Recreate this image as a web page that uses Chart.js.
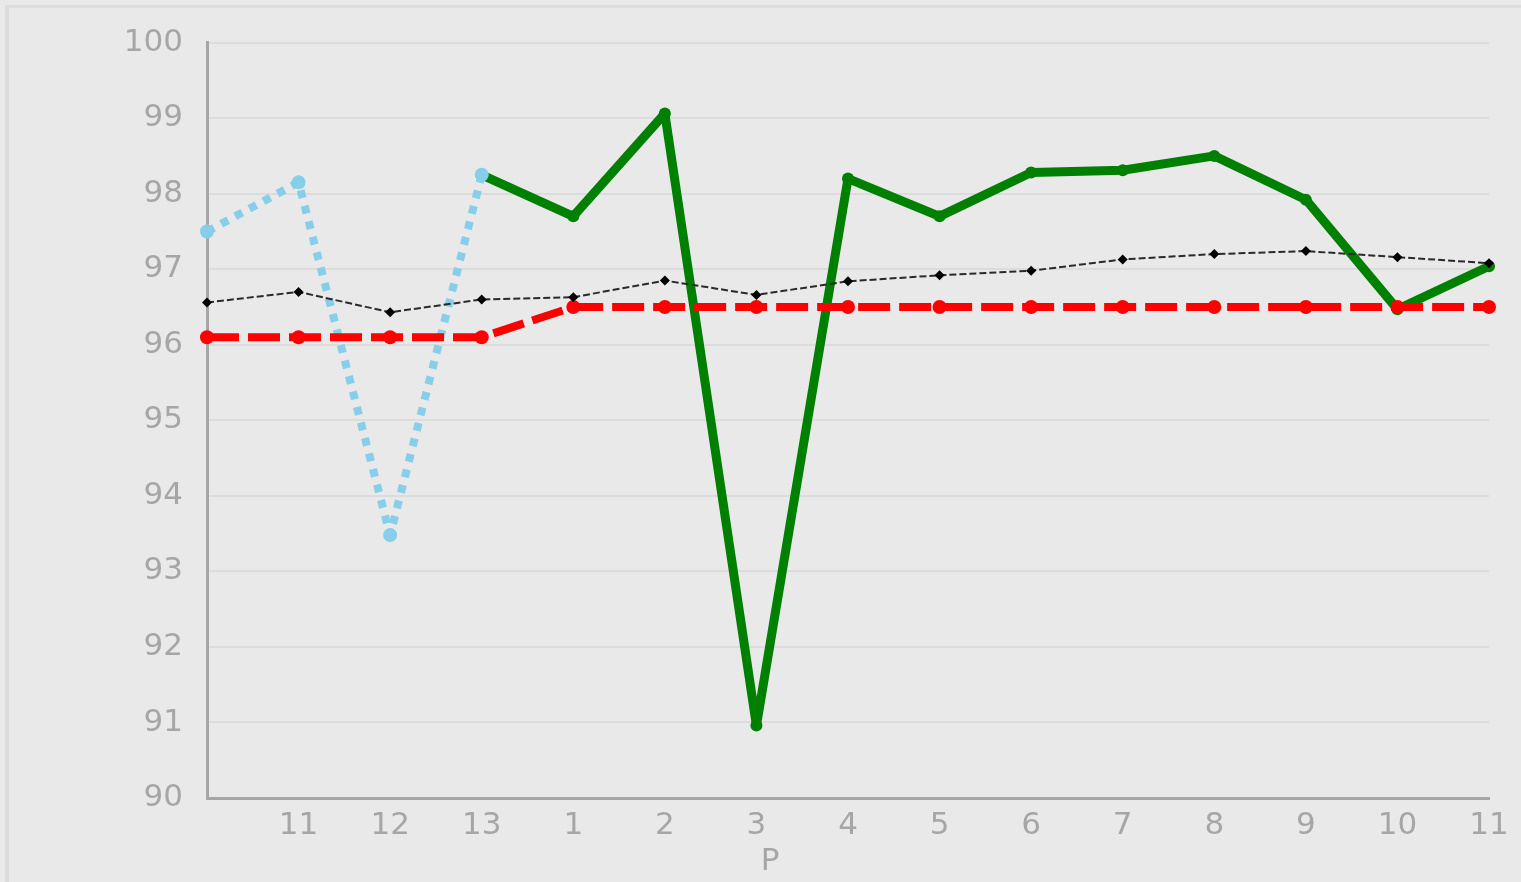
<!DOCTYPE html>
<html>
<head>
<meta charset="utf-8">
<script src="https://cdn.jsdelivr.net/npm/chart.js@4.4.1/dist/chart.umd.min.js"></script>
<style>
  html, body { margin: 0; padding: 0; background: #e9e9e9; overflow: hidden; }
  #frame { position: absolute; left: 5px; top: 5px; width: 1516px; height: 877px;
           border-top: 3px solid #dcdcdc; border-left: 4px solid #dcdcdc; box-sizing: border-box; }
  #wrap { position: absolute; left: 0; top: 0; width: 1521px; height: 882px; }
</style>
</head>
<body>
<div id="frame"></div>
<div id="wrap"><canvas id="chart" width="1521" height="882"></canvas></div>
<script>
// --- dados ---
const periods = ['', '11', '12', '13', '1', '2', '3', '4', '5', '6', '7', '8', '9', '10', '11'];
const prevYear = [97.5, 98.15, 93.48, 98.25, null, null, null, null, null, null, null, null, null, null, null];
const curYear = [null, null, null, 98.25, 97.7, 99.06, 90.96, 98.2, 97.7, 98.28, 98.31, 98.5, 97.92, 96.47, 97.04];
const average = [96.56, 96.7, 96.43, 96.6, 96.63, 96.85, 96.66, 96.84, 96.92, 96.98, 97.13, 97.2, 97.24, 97.16, 97.08];
const target = [96.1, 96.1, 96.1, 96.1, 96.5, 96.5, 96.5, 96.5, 96.5, 96.5, 96.5, 96.5, 96.5, 96.5, 96.5];
const yTicks = [90, 91, 92, 93, 94, 95, 96, 97, 98, 99, 100];

const grey = '#a6a6a6';
const fontFam = '"DejaVu Sans", sans-serif';

// titulo do eixo x desenhado no centro da imagem
const axisTitle = {
    id: 'axisTitle',
    afterDraw(chart) {
        const ctx = chart.ctx;
        ctx.save();
        ctx.fillStyle = grey;
        ctx.font = '31px ' + fontFam;
        ctx.textAlign = 'center';
        ctx.textBaseline = 'middle';
        ctx.fillText('P', 770, 862);
        ctx.restore();
    }
};

new Chart(document.getElementById('chart'), {
    type: 'line',
    data: {
        labels: periods,
        datasets: [
            {
                data: average,
                borderColor: '#2a2a2a',
                backgroundColor: '#000',
                borderWidth: 2,
                borderDash: [7, 3],
                pointStyle: 'rectRot',
                pointRadius: 5,
                pointBorderWidth: 0
            },
            {
                data: target,
                borderColor: '#ff0000',
                backgroundColor: '#ff0000',
                borderWidth: 8,
                borderDash: [32, 9],
                pointRadius: 7,
                pointBorderWidth: 0
            },
            {
                data: prevYear,
                borderColor: '#87ceeb',
                backgroundColor: '#87ceeb',
                borderWidth: 8,
                borderDash: [8, 8],
                pointRadius: 7,
                pointBorderWidth: 0
            },
            {
                data: curYear,
                borderColor: '#008000',
                backgroundColor: '#008000',
                borderWidth: 9,
                pointRadius: 6,
                pointBorderWidth: 0
            }
        ]
    },
    options: {
        responsive: false,
        animation: false,
        spanGaps: false,
        layout: { padding: { top: 42, right: 32, bottom: 0, left: 0 } },
        plugins: { legend: { display: false }, tooltip: { enabled: false } },
        elements: { line: { tension: 0, borderJoinStyle: 'round' } },
        scales: {
            x: {
                offset: false,
                grid: { display: false, drawTicks: false },
                border: { display: true, color: grey, width: 3 },
                ticks: { color: grey, font: { family: fontFam, size: 31 }, padding: 9, autoSkip: false, maxRotation: 0 },
                afterFit(scale) { scale.height = 84; }
            },
            y: {
                min: yTicks[0],
                max: yTicks[yTicks.length - 1],
                grid: { color: '#dcdcdc', lineWidth: 2, drawTicks: false },
                border: { display: true, color: grey, width: 3 },
                ticks: { stepSize: 1, color: grey, font: { family: fontFam, size: 31 }, padding: 24 },
                afterFit(scale) { scale.width = 207; }
            }
        }
    },
    plugins: [axisTitle]
});
</script>
</body>
</html>
